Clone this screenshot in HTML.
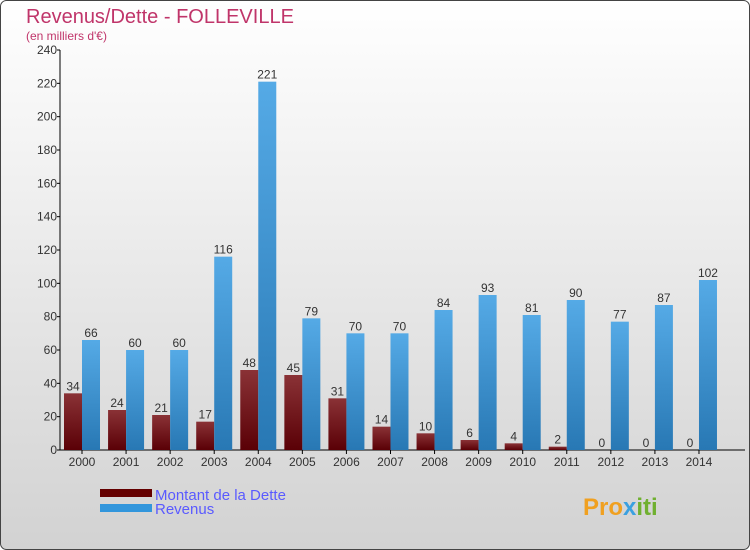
<!DOCTYPE html>
<html><head><meta charset="utf-8"><style>
body{margin:0;width:750px;height:550px;overflow:hidden;font-family:"Liberation Sans",sans-serif}
svg{display:block}
</style></head><body>
<svg width="750" height="550" xmlns="http://www.w3.org/2000/svg" id="chart">
<defs>
<linearGradient id="bg" x1="0" y1="0" x2="0" y2="1"><stop offset="0" stop-color="#ffffff"/><stop offset="1" stop-color="#d2d2d2"/></linearGradient>
<linearGradient id="gd" x1="0" y1="0" x2="0" y2="1"><stop offset="0" stop-color="#8a3236"/><stop offset="1" stop-color="#5a0006"/></linearGradient>
<linearGradient id="gr" x1="0" y1="0" x2="0" y2="1"><stop offset="0" stop-color="#55aae6"/><stop offset="1" stop-color="#2878b4"/></linearGradient>
</defs>
<rect x="0.5" y="0.5" width="749" height="549" rx="6" fill="url(#bg)" stroke="#444"/>
<text x="26" y="23" font-size="20" fill="#c0356a">Revenus/Dette - FOLLEVILLE</text>
<text x="26" y="40" font-size="12" fill="#c0356a">(en milliers d'€)</text>
<g id="axes"></g>
<g id="bars"></g>
<g>
<rect x="100" y="489" width="52" height="8" fill="#640000"/>
<text x="155" y="500" font-size="15" fill="#5a5aff">Montant de la Dette</text>
<rect x="100" y="504" width="52" height="8" fill="#3296dc"/>
<text x="155" y="514" font-size="15" fill="#5a5aff">Revenus</text>
</g>
<text x="583" y="515" font-size="24" font-weight="bold" fill="#f0a020">Pro<tspan fill="#3aa0e0">x</tspan><tspan fill="#70b030">iti</tspan></text>
</svg>
<script>
const years=["2000","2001","2002","2003","2004","2005","2006","2007","2008","2009","2010","2011","2012","2013","2014"];
const dette=[34,24,21,17,48,45,31,14,10,6,4,2,0,0,0];
const revenus=[66,60,60,116,221,79,70,70,84,93,81,90,77,87,102];
const yTicks=[0,20,40,60,80,100,120,140,160,180,200,220,240];
const NS="http://www.w3.org/2000/svg";
const y0=450,yTop=50,yMax=240,x0=60,x1=82,step=44.07,bw=18;
const yS=v=>y0-(v/yMax)*(y0-yTop);
const xC=i=>x1+i*step;
function mk(tag,attrs,parent,txt){const e=document.createElementNS(NS,tag);for(const k in attrs)e.setAttribute(k,attrs[k]);if(txt!==undefined)e.textContent=txt;parent.appendChild(e);return e;}
const ax=document.getElementById('axes'),bars=document.getElementById('bars');
let l=mk('line',{x1:x0,y1:yTop,x2:x0,y2:y0,stroke:'#000'},ax);


l=mk('line',{x1:x0,y1:y0,x2:745,y2:y0,stroke:'#000'},ax);


yTicks.forEach(v=>{
  const t=mk('line',{x1:x0-3,y1:yS(v),x2:x0,y2:yS(v),stroke:'#000'},ax);
  
  
  const tx=mk('text',{x:x0-3,y:yS(v)+4,'font-size':12,'text-anchor':'end',fill:'#333'},ax,v);
  
  
});
years.forEach((yr,i)=>{
  const c=xC(i);
  const t=mk('line',{x1:c,y1:y0,x2:c,y2:y0+4,stroke:'#000'},ax);
  
  
  const tx=mk('text',{x:c,y:y0+16,'font-size':12,'text-anchor':'middle',fill:'#333'},ax,yr);
  
  
  const d=mk('rect',{x:c-bw,y:yS(dette[i]),width:bw,height:y0-yS(dette[i]),fill:'url(#gd)'},bars);
  
  
  const dl=mk('text',{x:c-bw/2,y:yS(dette[i])-3,'font-size':12,'text-anchor':'middle',fill:'#333'},bars,dette[i]);
  
  
  const r=mk('rect',{x:c,y:yS(revenus[i]),width:bw,height:y0-yS(revenus[i]),fill:'url(#gr)'},bars);
  
  
  const rl=mk('text',{x:c+bw/2,y:yS(revenus[i])-3,'font-size':12,'text-anchor':'middle',fill:'#333'},bars,revenus[i]);
  
  
});
</script>
</body></html>
